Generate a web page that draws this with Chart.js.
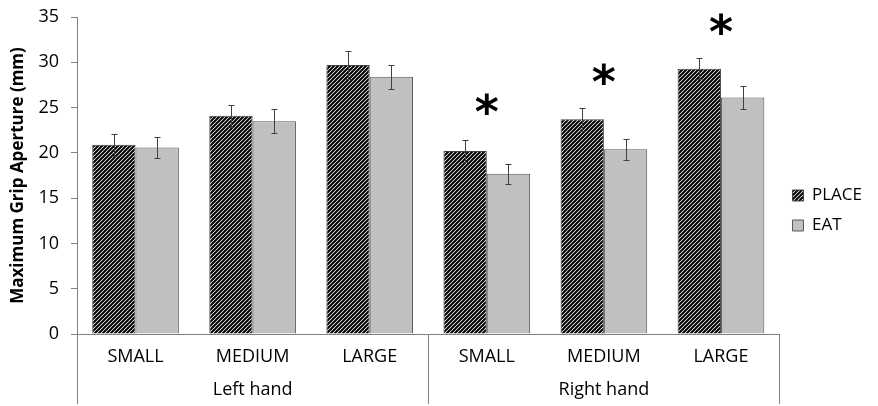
<!DOCTYPE html>
<html>
<head>
<meta charset="utf-8">
<script src="https://cdn.jsdelivr.net/npm/chart.js@4/dist/chart.umd.min.js"></script>
<style>
  html, body { margin: 0; padding: 0; background: #fff; }
  #wrap { width: 878px; height: 406px; }
</style>
</head>
<body>
<div id="wrap"><canvas id="c" width="878" height="406"></canvas></div>
<script>
// data
const sizes = ["SMALL", "MEDIUM", "LARGE", "SMALL", "MEDIUM", "LARGE"];
const hands = ["Left hand", "Right hand"];
const placeVals = [20.9, 24.1, 29.7, 20.2, 23.7, 29.3];
const placeErr = [1.2, 1.2, 1.5, 1.2, 1.3, 1.15];
const eatVals = [20.6, 23.5, 28.4, 17.7, 20.4, 26.1];
const eatErr = [1.15, 1.3, 1.35, 1.1, 1.15, 1.25];
// asterisk marks (category index, y value of its centre)
const starIdx = [3, 4, 5];
const starY = [25.1, 28.4, 33.9];

const FONT = "'Open Sans', 'DejaVu Sans', sans-serif";

// hatch pattern for PLACE
function hatch() {
  const p = document.createElement("canvas");
  p.width = 4; p.height = 4;
  const g = p.getContext("2d");
  g.fillStyle = "#fff";
  g.fillRect(0, 0, 4, 4);
  g.strokeStyle = "#000";
  g.lineWidth = 2;
  g.beginPath();
  g.moveTo(-1, 5); g.lineTo(5, -1);
  g.moveTo(-3, 3); g.lineTo(3, -3);
  g.moveTo(1, 7); g.lineTo(7, 1);
  g.stroke();
  return g.createPattern(p, "repeat");
}
const ctx = document.getElementById("c").getContext("2d");
const placeFill = hatch();

const errs = [placeErr, eatErr];

const extras = {
  id: "extras",
  afterDatasetsDraw(chart) {
    const c = chart.ctx;
    const y = chart.scales.y;
    const x = chart.scales.x;
    // error bars
    c.save();
    c.strokeStyle = "#404040";
    c.lineWidth = 1;
    chart.data.datasets.forEach((ds, di) => {
      const meta = chart.getDatasetMeta(di);
      meta.data.forEach((bar, i) => {
        const v = ds.data[i], e = errs[di][i];
        const top = Math.round(y.getPixelForValue(v + e)) + 0.5;
        const bot = Math.round(y.getPixelForValue(v - e)) + 0.5;
        const bx = Math.round(bar.x) + 0.5;
        c.beginPath();
        c.moveTo(bx, top); c.lineTo(bx, bot);
        c.moveTo(bx - 3, top); c.lineTo(bx + 3, top);
        c.moveTo(bx - 3, bot); c.lineTo(bx + 3, bot);
        c.stroke();
      });
    });
    // asterisks
    c.fillStyle = "#000";
    c.font = "bold 46px 'DejaVu Sans', sans-serif";
    c.textAlign = "center";
    c.textBaseline = "middle";
    starIdx.forEach((ci, k) => {
      c.fillText("*", x.getPixelForValue(ci), y.getPixelForValue(starY[k]) + 9);
    });
    c.restore();
  },
  afterDraw(chart) {
    // group separators below the x axis
    const c = chart.ctx;
    const x = chart.scales.x;
    const g = chart.scales.groups;
    const y0 = chart.chartArea.bottom;
    const y1 = g.bottom;
    const mid = (x.getPixelForValue(2) + x.getPixelForValue(3)) / 2;
    c.save();
    c.strokeStyle = "#7f7f7f";
    c.lineWidth = 1;
    c.beginPath();
    [x.left, mid, x.right].forEach(px => {
      const p = Math.round(px) + 0.5;
      c.moveTo(p, y0); c.lineTo(p, y1);
    });
    c.stroke();
    c.restore();
  }
};

new Chart(ctx, {
  type: "bar",
  data: {
    labels: sizes,
    datasets: [
      {
        label: "PLACE",
        data: placeVals,
        backgroundColor: placeFill,
        borderColor: "#404040",
        borderWidth: 1,
        categoryPercentage: 0.74,
        barPercentage: 1.0
      },
      {
        label: "EAT",
        data: eatVals,
        backgroundColor: "#c0c0c0",
        borderColor: "#595959",
        borderWidth: 1,
        categoryPercentage: 0.74,
        barPercentage: 1.0
      }
    ]
  },
  options: {
    responsive: false,
    animation: false,
    layout: { padding: { top: 17, right: 6, left: 6, bottom: 2 } },
    plugins: {
      tooltip: { enabled: false },
      legend: {
        position: "right",
        labels: {
          color: "#000",
          font: { family: FONT, size: 17 },
          boxWidth: 11,
          boxHeight: 11,
          padding: 13
        }
      }
    },
    scales: {
      x: {
        grid: { display: false },
        border: { color: "#7f7f7f" },
        ticks: { color: "#000", font: { family: FONT, size: 18 }, padding: 4 },
        afterFit: s => { s.height = 32; }
      },
      groups: {
        type: "category",
        labels: hands,
        position: "bottom",
        offset: true,
        grid: { display: false },
        border: { display: false },
        ticks: { color: "#000", font: { family: FONT, size: 18 }, padding: 5 },
        afterFit: s => { s.height = 38; }
      },
      y: {
        min: 0,
        max: 35,
        ticks: { stepSize: 5, color: "#000", font: { family: FONT, size: 18 }, padding: 12 },
        grid: { display: true, drawOnChartArea: false, tickLength: 6, color: "#7f7f7f" },
        border: { color: "#7f7f7f" },
        title: {
          display: true,
          text: "Maximum Grip Aperture (mm)",
          color: "#000",
          font: { family: FONT, size: 17, weight: "bold" },
          padding: 2
        },
        afterFit: s => { s.width = 71; s.paddingTop = 0; s.paddingBottom = 0; }
      }
    }
  },
  plugins: [extras]
});
</script>
</body>
</html>
